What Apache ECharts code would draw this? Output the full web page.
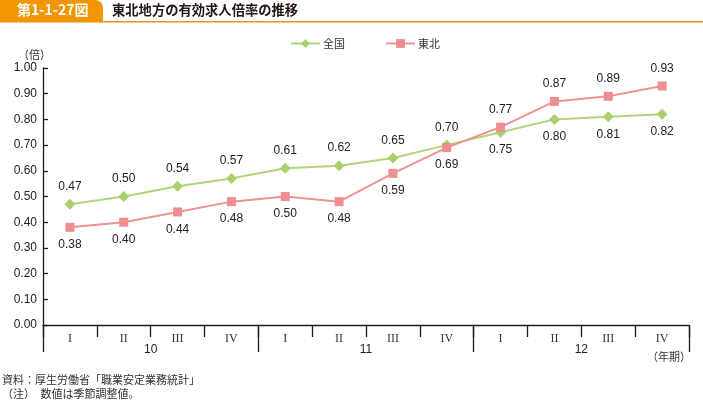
<!DOCTYPE html>
<html><head><meta charset="utf-8">
<script src="https://cdn.jsdelivr.net/npm/echarts@6/dist/echarts.min.js"></script>
<style>html,body{margin:0;padding:0;background:#fff}#c{width:703px;height:403px}</style>
</head><body><div id="c"></div>
<script>
const quarters = ['I','II','III','IV','I','II','III','IV','I','II','III','IV'];
const years = ['10','11','12'];
const national = [0.47,0.50,0.54,0.57,0.61,0.62,0.65,0.70,0.75,0.80,0.81,0.82];
const tohoku = [0.38,0.40,0.44,0.48,0.50,0.48,0.59,0.69,0.77,0.87,0.89,0.93];
const nationalLabelPos = ['top','top','top','top','top','top','top','top','bottom','bottom','bottom','bottom'];
const tohokuLabelPos = ['bottom','bottom','bottom','bottom','bottom','bottom','bottom','bottom','top','top','top','top'];

const chart = echarts.init(document.getElementById('c'), null, {renderer:'canvas'});
const jp = '"Noto Sans CJK JP", sans-serif';
const num = '"Liberation Sans", Arial, sans-serif';
function mk(vals, pos){ return vals.map((v,i)=>({value:v, label:{position:pos[i]}})); }
chart.setOption({
  animation:false,
  grid:{left:43,right:14,top:68,bottom:78},
  legend:{
    top:33,left:285,itemGap:40,itemWidth:29,itemHeight:11,
    textStyle:{fontFamily:jp,fontSize:11,color:'#333',padding:[0,0,0,-2]},
    data:['全国','東北']
  },
  xAxis:[{
    type:'category',data:quarters,boundaryGap:true,
    axisLine:{show:true,lineStyle:{color:'#231815',width:1.3}},
    axisTick:{show:true,interval:0,length:12,lineStyle:{color:'#231815',width:1.3}},
    axisLabel:{show:true,interval:0,margin:8,fontFamily:'"Liberation Serif", serif',fontSize:12,color:'#333'}
  },{
    type:'category',data:years,boundaryGap:true,position:'bottom',
    axisLine:{show:false},
    axisTick:{show:true,interval:0,length:27,lineStyle:{color:'#231815',width:1.3}},
    axisLabel:{show:true,interval:0,margin:19,fontFamily:num,fontSize:12,color:'#222'}
  }],
  yAxis:{
    type:'value',min:0,max:1,interval:0.1,
    name:'（倍）',nameLocation:'end',nameGap:8,
    nameTextStyle:{fontFamily:jp,fontSize:11,color:'#333',align:'right',padding:[0,-8,0,0]},
    axisLine:{show:true,lineStyle:{color:'#231815',width:1.3}},
    axisTick:{show:true,inside:true,length:5,lineStyle:{color:'#231815',width:1.3}},
    splitLine:{show:false},
    axisLabel:{margin:6,fontFamily:num,fontSize:12,color:'#222',formatter:v=>v.toFixed(2)}
  },
  series:[{
    name:'全国',type:'line',data:mk(national,nationalLabelPos),
    symbol:'diamond',symbolSize:11,
    lineStyle:{color:'#b0d57a',width:2},itemStyle:{color:'#a9d06c'},
    label:{show:true,distance:6,fontFamily:num,fontSize:12,color:'#222',formatter:p=>p.value.toFixed(2)},
    z:3
  },{
    name:'東北',type:'line',data:mk(tohoku,tohokuLabelPos),
    symbol:'rect',symbolSize:9,
    lineStyle:{color:'#ef9294',width:2},itemStyle:{color:'#ee8e90'},
    label:{show:true,distance:7,fontFamily:num,fontSize:12,color:'#222',formatter:p=>p.value.toFixed(2)},
    z:4
  }],
  graphic:[
    {type:'rect',left:0,top:0,shape:{width:103,height:22,r:[0,8,0,0]},style:{fill:'#f29600'}},
    {type:'rect',left:0,top:21,shape:{width:703,height:1.5},style:{fill:'#f29600'}},
    {type:'text',left:17,top:3,style:{text:'第1-1-27図',fill:'#fff',font:'bold 14px '+jp}},
    {type:'text',left:112,top:3,style:{text:'東北地方の有効求人倍率の推移',fill:'#231815',font:'bold 13.3px '+jp}},
    {type:'text',right:12,top:351,style:{text:'（年期）',fill:'#333',font:'11px '+jp}},
    {type:'text',left:2,top:374,style:{text:'資料：厚生労働省「職業安定業務統計」',fill:'#333',font:'11px '+jp}},
    {type:'text',left:2,top:388,style:{text:'（注）　数値は季節調整値。',fill:'#333',font:'11px '+jp}}
  ]
});
</script></body></html>
